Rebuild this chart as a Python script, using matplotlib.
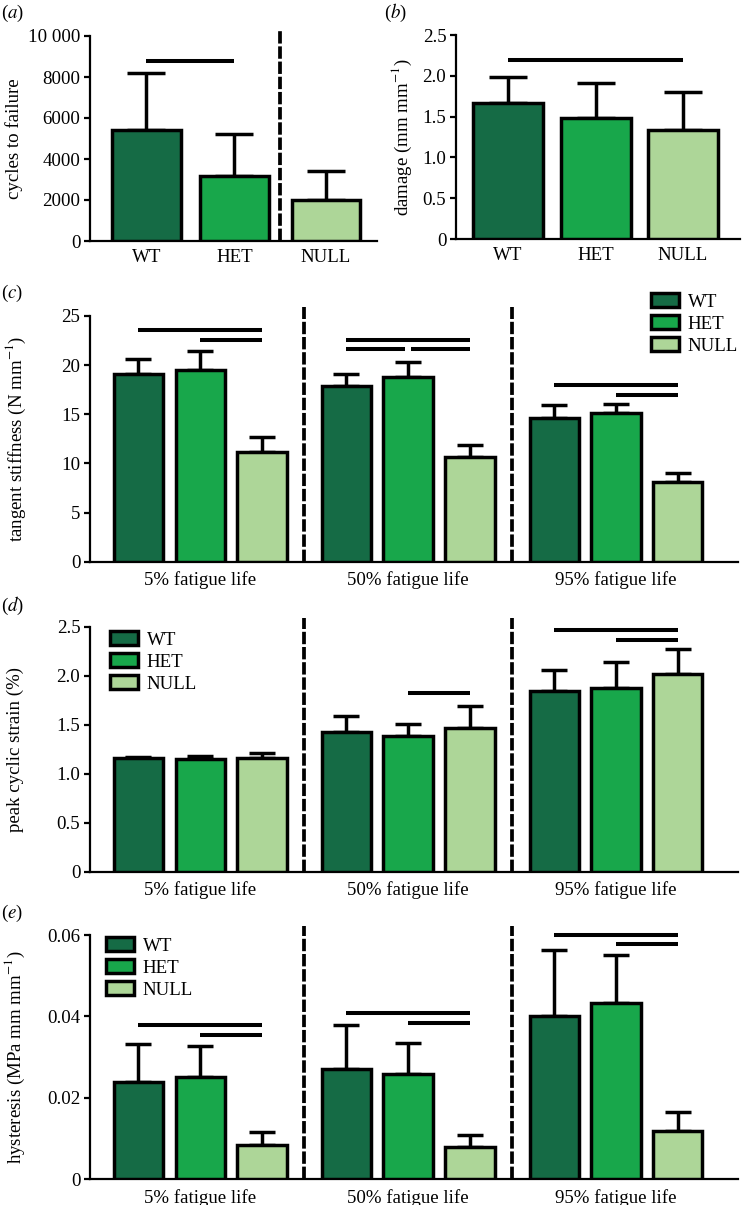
import matplotlib
matplotlib.use('Agg')
import matplotlib.pyplot as plt
from matplotlib.patches import Patch
import numpy as np

plt.rcParams['font.family'] = ['Liberation Serif', 'DejaVu Serif']
plt.rcParams['mathtext.fontset'] = 'stix'

W, H = 742, 1205
DPI = 100

# ---------------- data ----------------
genotypes = ['WT', 'HET', 'NULL']
colors = ['#156B45', '#18A74B', '#ADD698']
stages = ['5% fatigue life', '50% fatigue life', '95% fatigue life']

# (a) cycles to failure
cycles_mean = [5400, 3150, 2000]
cycles_err = [2800, 2050, 1400]
# (b) damage
damage_mean = [1.67, 1.48, 1.34]
damage_err = [0.31, 0.43, 0.46]
# (c) tangent stiffness, rows = stage, cols = genotype
stiff_mean = [[19.1, 19.5, 11.2], [17.9, 18.8, 10.7], [14.6, 15.1, 8.1]]
stiff_err = [[1.5, 1.9, 1.45], [1.2, 1.55, 1.2], [1.3, 0.9, 0.9]]
# (d) peak cyclic strain
strain_mean = [[1.16, 1.15, 1.16], [1.43, 1.385, 1.47], [1.84, 1.87, 2.02]]
strain_err = [[0.015, 0.03, 0.05], [0.16, 0.125, 0.22], [0.22, 0.27, 0.25]]
# (e) hysteresis
hyst_mean = [[0.0238, 0.0252, 0.0084], [0.0270, 0.0259, 0.0079], [0.0402, 0.0434, 0.0119]]
hyst_err = [[0.0094, 0.0075, 0.0031], [0.0110, 0.0076, 0.0030], [0.0161, 0.0117, 0.0047]]

# significance bars: (group, from genotype, to genotype, height)
sig_a = [(0, 0, 1, 8780)]
sig_b = [(0, 0, 2, 2.19)]
sig_c = [(0, 0, 2, 23.6), (0, 1, 2, 22.55), (1, 0, 2, 22.55), (1, 0, 1, 21.6),
         (1, 1, 2, 21.6), (2, 0, 2, 17.95), (2, 1, 2, 16.96)]
sig_d = [(1, 1, 2, 1.82), (2, 0, 2, 2.47), (2, 1, 2, 2.36)]
sig_e = [(0, 0, 2, 0.0378), (0, 1, 2, 0.0354), (1, 0, 2, 0.0409), (1, 1, 2, 0.0385),
         (2, 0, 2, 0.0601), (2, 1, 2, 0.0577)]

# ---------------- layout ----------------
fig = plt.figure(figsize=(W / DPI, H / DPI), dpi=DPI)
FS = 13.6
LW = 2.5
GAP = 3.37


def make_ax(l, r, y0, y1, ymax, xlim, ext=1.035):
    span = y0 - y1
    t = y0 - span * ext
    ax = fig.add_axes([l / W, 1 - y0 / H, (r - l) / W, (y0 - t) / H])
    ax.set_ylim(0, ymax * ext)
    ax.set_xlim(*xlim)
    for s in ['top', 'right']:
        ax.spines[s].set_visible(False)
    ax.spines['left'].set_bounds(0, ymax)
    ax.spines['left'].set_linewidth(1.6)
    ax.spines['bottom'].set_linewidth(1.6)
    ax.tick_params(axis='y', direction='out', length=4, width=1.6, labelsize=FS, pad=3)
    ax.tick_params(axis='x', length=0, labelsize=FS, pad=6)
    ax.patch.set_alpha(0)
    return ax


def draw_bars(ax, xs, means, errs, width, capsize):
    ax.errorbar(xs, means, yerr=[np.zeros(len(errs)), errs], fmt='none', ecolor='black',
                elinewidth=LW, capsize=capsize, capthick=LW, zorder=2)
    ax.bar(xs, means, width, color=colors * (len(xs) // 3), edgecolor='black',
           linewidth=LW, zorder=3)


def draw_sig(ax, sigs, pos_fn, shrink_mid=False):
    for g, i, j, y in sigs:
        x1, x2 = pos_fn(g, i), pos_fn(g, j)
        if shrink_mid:
            # small gap where two bars share an end
            others = [s for s in sigs if s[0] == g and s[3] == y and s != (g, i, j, y)]
            for o in others:
                if o[1] == j:
                    x2 -= 0.05
                if o[2] == i:
                    x1 += 0.05
        ax.plot([x1, x2], [y, y], color='black', lw=2.9, solid_capstyle='butt', zorder=4)


def dashed(ax, x):
    ax.axvline(x, ymin=0, ymax=1, color='black', lw=2.7, linestyle=(0, (3.3, 0.75)),
               clip_on=False, zorder=1)


def px_text(x, y, s, **kw):
    fig.text(x / W, 1 - y / H, s, **kw)


# ---- (a)
pos_a = [0, 1, 2.04]
ax = make_ax(90, 377, 241, 36, 10000, (-0.642, 2.62))
draw_bars(ax, pos_a, cycles_mean, cycles_err, 0.78, 13.5)
draw_sig(ax, sig_a, lambda g, i: pos_a[i])
dashed(ax, (pos_a[1] + pos_a[2]) / 2)
ax.set_yticks([0, 2000, 4000, 6000, 8000, 10000])
ax.set_yticklabels(['0', '2000', '4000', '6000', '8000', '10 000'])
ax.set_xticks(pos_a)
ax.set_xticklabels(genotypes)
px_text(14, 139, 'cycles to failure', rotation=90, ha='center', va='center', fontsize=FS)
px_text(1, 13, '($\\mathit{a}$)', ha='left', va='center', fontsize=FS)

# ---- (b)
pos_b = [0, 1, 1.98]
ax = make_ax(456, 740, 239, 35, 2.5, (-0.589, 2.63))
draw_bars(ax, pos_b, damage_mean, damage_err, 0.79, 13.5)
draw_sig(ax, sig_b, lambda g, i: pos_b[i])
ax.set_yticks([0, 0.5, 1.0, 1.5, 2.0, 2.5])
ax.set_yticklabels(['0', '0.5', '1.0', '1.5', '2.0', '2.5'])
ax.set_xticks(pos_b)
ax.set_xticklabels(genotypes)
px_text(402, 137, 'damage (mm mm$^{-1}$)', rotation=90, ha='center', va='center', fontsize=FS)
px_text(384, 13, '($\\mathit{b}$)', ha='left', va='center', fontsize=FS)


# ---- grouped panels
def gpos(g, i):
    return g * GAP + i


xs_all = [gpos(g, i) for g in range(3) for i in range(3)]
centers = [gpos(g, 1) for g in range(3)]
divs = [(gpos(0, 2) + gpos(1, 0)) / 2, (gpos(1, 2) + gpos(2, 0)) / 2]
handles = [Patch(facecolor=c, edgecolor='black', linewidth=LW) for c in colors]


def grouped(y0, y1, ymax, means, errs, sigs, yticks, yticklabels, ylabel, ylab_x, tag, tag_y,
            leg_xy):
    ax = make_ax(90, 738, y0, y1, ymax, (-0.786, 9.716))
    draw_bars(ax, xs_all, np.ravel(means), np.ravel(errs), 0.8, 9.3)
    draw_sig(ax, sigs, gpos, shrink_mid=True)
    for d in divs:
        dashed(ax, d)
    ax.set_yticks(yticks)
    ax.set_yticklabels(yticklabels)
    ax.set_xticks(centers)
    ax.set_xticklabels(stages)
    ax.tick_params(axis='x', pad=7)
    px_text(ylab_x, (y0 + y1) / 2, ylabel, rotation=90, ha='center', va='center', fontsize=FS)
    px_text(1, tag_y, tag, ha='left', va='center', fontsize=FS)
    fig.legend(handles, genotypes, loc='upper left',
               bbox_to_anchor=(leg_xy[0] / W, 1 - leg_xy[1] / H), frameon=False,
               borderpad=0, borderaxespad=0, handlelength=1.5, handleheight=0.8,
               handletextpad=0.45, labelspacing=0.22, fontsize=FS)
    return ax


grouped(561.7, 316, 25, stiff_mean, stiff_err, sig_c, [0, 5, 10, 15, 20, 25],
        ['0', '5', '10', '15', '20', '25'], 'tangent stiffness (N mm$^{-1}$)', 16,
        '($\\mathit{c}$)', 293, (651, 293))
grouped(871.7, 626.7, 2.5, strain_mean, strain_err, sig_d, [0, 0.5, 1.0, 1.5, 2.0, 2.5],
        ['0', '0.5', '1.0', '1.5', '2.0', '2.5'], 'peak cyclic strain (%)', 15,
        '($\\mathit{d}$)', 606, (110, 631))
grouped(1179.3, 935, 0.06, hyst_mean, hyst_err, sig_e, [0, 0.02, 0.04, 0.06],
        ['0', '0.02', '0.04', '0.06'], 'hysteresis (MPa mm mm$^{-1}$)', 15,
        '($\\mathit{e}$)', 913, (106, 937))

fig.savefig('out.png', dpi=DPI)
